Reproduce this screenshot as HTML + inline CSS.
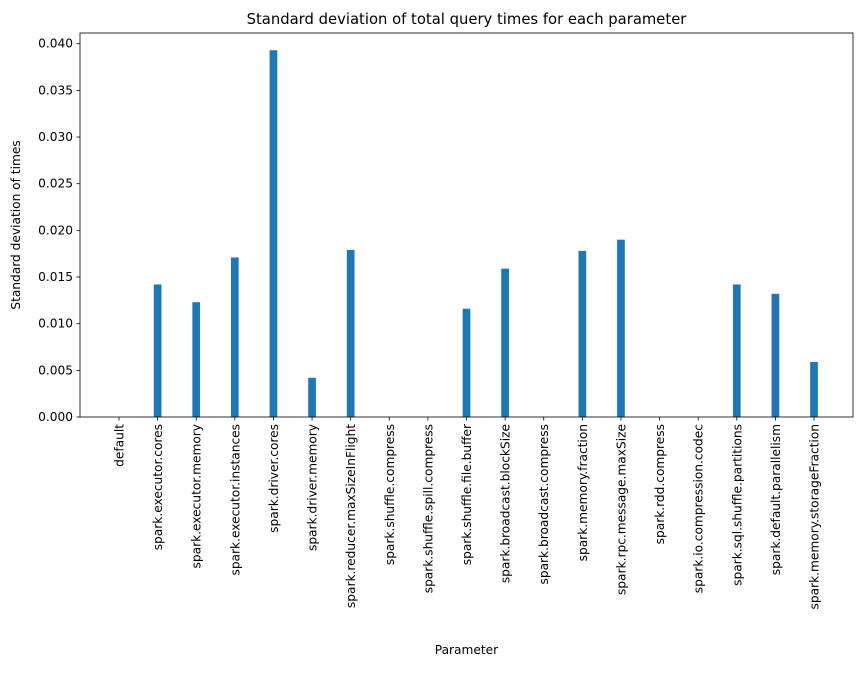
<!DOCTYPE html>
<html><head><meta charset="utf-8"><style>
body{margin:0;background:#fff;font-family:"Liberation Sans","DejaVu Sans",sans-serif;}
svg text{font-family:"DejaVu Sans","Liberation Sans",sans-serif;fill:#000;}
</style></head><body>
<svg id="chart" width="863" height="668"></svg>
<script>
const categories=["default","spark.executor.cores","spark.executor.memory","spark.executor.instances","spark.driver.cores","spark.driver.memory","spark.reducer.maxSizeInFlight","spark.shuffle.compress","spark.shuffle.spill.compress","spark.shuffle.file.buffer","spark.broadcast.blockSize","spark.broadcast.compress","spark.memory.fraction","spark.rpc.message.maxSize","spark.rdd.compress","spark.io.compression.codec","spark.sql.shuffle.partitions","spark.default.parallelism","spark.memory.storageFraction"];
const values=[0,0.0142,0.0123,0.0171,0.0393,0.0042,0.0179,0,0,0.0116,0.0159,0,0.0178,0.0190,0,0,0.0142,0.0132,0.0059];
const yTicks=[0,0.005,0.010,0.015,0.020,0.025,0.030,0.035,0.040];
const yTickLabels=["0.000","0.005","0.010","0.015","0.020","0.025","0.030","0.035","0.040"];
const NS="http://www.w3.org/2000/svg";
const svg=document.getElementById('chart');
const L=80,R=853,T=33,B=417;
const xMin=-1.01,xMax=categories.length-1+1.01;
function x(i){return L+(i-xMin)/(xMax-xMin)*(R-L);}
function y(v){return B-v/0.04*(B-43.7);}
function el(tag,attrs,txt){const e=document.createElementNS(NS,tag);for(const k in attrs)e.setAttribute(k,attrs[k]);if(txt!==undefined)e.textContent=txt;svg.appendChild(e);return e;}
const bw=(x(0.2)-x(0));
values.forEach((v,i)=>{
 const r=el('rect',{x:x(i)-bw/2,y:y(v),width:bw,height:B-y(v),fill:'#1f77b4'});
 
 
});
yTicks.forEach((t,i)=>{
 const yy=y(t);
 const l=el('line',{x1:L-3.5,x2:L,y1:yy,y2:yy,stroke:'#000','stroke-width':0.8});
 
 
 const tx=el('text',{x:L-7,y:yy+4,'text-anchor':'end','font-size':'12.2'},yTickLabels[i]);
 
 
});
categories.forEach((c,i)=>{
 const xx=x(i);
 const l=el('line',{x1:xx,x2:xx,y1:B,y2:B+3.5,stroke:'#000','stroke-width':0.8});
 
 
 const tx=el('text',{x:0,y:0,'text-anchor':'end','font-size':'12.2',transform:`translate(${xx+4.5},${B+7}) rotate(-90)`},c);
 
 
});
const frame=el('rect',{x:L,y:T,width:R-L,height:B-T,fill:'none',stroke:'#000','stroke-width':0.8});


const title=el('text',{x:(L+R)/2,y:T-9,'text-anchor':'middle','font-size':'14.8'},'Standard deviation of total query times for each parameter');


const xt=el('text',{x:(L+R)/2,y:654,'text-anchor':'middle','font-size':'12.2'},'Parameter');


const yt=el('text',{x:0,y:0,'text-anchor':'middle','font-size':'12.2',transform:`translate(20,${(T+B)/2}) rotate(-90)`},'Standard deviation of times');


</script>
</body></html>
